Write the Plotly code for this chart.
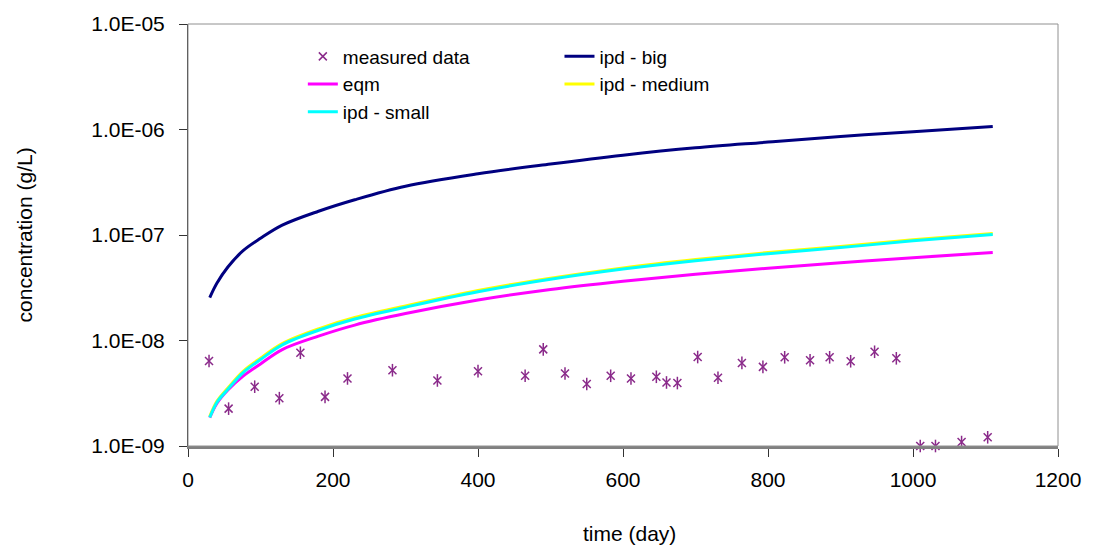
import plotly.graph_objects as go

# Measured concentrations (g/L) against time (day)
days_measured = [29, 56, 92, 126, 155, 189, 220, 282, 344, 400, 465, 490, 520, 550,
                 583, 611, 646, 660, 675, 703, 731, 764, 793, 823, 858, 885, 914,
                 947, 977, 1010, 1031, 1067, 1103]
conc_measured = [6.4e-9, 2.26e-9, 3.65e-9, 2.84e-9, 7.65e-9, 2.92e-9, 4.37e-9, 5.23e-9,
                 4.18e-9, 5.12e-9, 4.63e-9, 8.24e-9, 4.86e-9, 3.87e-9, 4.63e-9, 4.37e-9,
                 4.53e-9, 4.0e-9, 3.95e-9, 6.97e-9, 4.43e-9, 6.13e-9, 5.62e-9, 6.93e-9,
                 6.5e-9, 6.93e-9, 6.36e-9, 7.82e-9, 6.78e-9, 1.0e-9, 1.0e-9, 1.09e-9, 1.21e-9]

# Model curves (g/L)
days_model = [30, 40, 55, 76, 100, 130, 180, 230, 300, 400, 500, 600, 700, 800, 900, 1000, 1110]
conc_eqm = [1.86e-9, 2.55e-9, 3.4e-9, 4.6e-9, 6.0e-9, 8.2e-9, 1.1e-8, 1.4e-8, 1.8e-8,
            2.42e-8, 3.05e-8, 3.65e-8, 4.25e-8, 4.85e-8, 5.45e-8, 6.1e-8, 6.82e-8]
conc_big = [2.55e-8, 3.5e-8, 4.97e-8, 7.1e-8, 9.3e-8, 1.24e-7, 1.68e-7, 2.16e-7, 2.9e-7,
            3.8e-7, 4.7e-7, 5.7e-7, 6.7e-7, 7.6e-7, 8.6e-7, 9.5e-7, 1.07e-6]
conc_medium = [1.9e-9, 2.66e-9, 3.55e-9, 5.1e-9, 6.8e-9, 9.35e-9, 1.29e-8, 1.65e-8, 2.13e-8,
               2.98e-8, 3.9e-8, 4.88e-8, 5.85e-8, 6.82e-8, 7.8e-8, 9.0e-8, 1.035e-7]
conc_small = [1.86e-9, 2.6e-9, 3.45e-9, 4.97e-9, 6.6e-9, 9.1e-9, 1.25e-8, 1.6e-8, 2.07e-8,
              2.9e-8, 3.8e-8, 4.75e-8, 5.7e-8, 6.65e-8, 7.6e-8, 8.8e-8, 1.01e-7]

y_ticks = [1e-9, 1e-8, 1e-7, 1e-6, 1e-5]
y_tick_text = ["1.0E-09", "1.0E-08", "1.0E-07", "1.0E-06", "1.0E-05"]
x_ticks = [0, 200, 400, 600, 800, 1000, 1200]

FONT = "Arial, Liberation Sans, sans-serif"
PURPLE = "#8a2a8a"
TXT = 21

fig = go.Figure()

fig.add_trace(go.Scatter(
    x=days_measured, y=conc_measured, mode="markers", name="measured data",
    marker=dict(symbol="x-thin-open", size=8, color=PURPLE, line=dict(color=PURPLE, width=1.5)),
    legend="legend", cliponaxis=False))
fig.add_trace(go.Scatter(
    x=days_measured, y=conc_measured, mode="markers", showlegend=False, hoverinfo="skip",
    marker=dict(symbol="line-ns-open", size=9, color=PURPLE, line=dict(color=PURPLE, width=1.5)),
    cliponaxis=False))

fig.add_trace(go.Scatter(x=days_model, y=conc_big, mode="lines", name="ipd - big",
                         line=dict(color="#000080", width=3, shape="spline"), legend="legend2"))
fig.add_trace(go.Scatter(x=days_model, y=conc_eqm, mode="lines", name="eqm",
                         line=dict(color="#ff00ff", width=3, shape="spline"), legend="legend"))
fig.add_trace(go.Scatter(x=days_model, y=conc_medium, mode="lines", name="ipd - medium",
                         line=dict(color="#ffff00", width=3, shape="spline"), legend="legend2"))
fig.add_trace(go.Scatter(x=days_model, y=conc_small, mode="lines", name="ipd - small",
                         line=dict(color="#00ffff", width=3, shape="spline"), legend="legend"))

legend_style = dict(font=dict(family=FONT, size=19, color="black"), bgcolor="rgba(0,0,0,0)",
                    xanchor="left", yanchor="top", tracegroupgap=0, itemwidth=30)

fig.update_layout(
    width=1093, height=546,
    margin=dict(l=188, r=29, t=19, b=100),
    paper_bgcolor="white", plot_bgcolor="white",
    font=dict(family=FONT, size=TXT, color="black"),
    legend=dict(x=0.132, y=0.968, **legend_style),
    legend2=dict(x=0.427, y=0.968, **legend_style),
    xaxis=dict(range=[0, 1200], tickvals=x_ticks, ticks="outside", ticklen=8, tickwidth=1,
               tickcolor="#333333", showgrid=False, zeroline=False, showline=True,
               linecolor="#808080", linewidth=3, ticklabelstandoff=5,
               tickfont=dict(family=FONT, size=TXT, color="black")),
    yaxis=dict(type="log", range=[-9, -5], tickvals=y_ticks, ticktext=y_tick_text,
               ticks="outside", ticklen=8, tickwidth=1, tickcolor="#333333",
               showgrid=False, zeroline=False, showline=True, linecolor="#333333",
               linewidth=1, ticklabelstandoff=10,
               tickfont=dict(family=FONT, size=TXT, color="black")),
    shapes=[dict(type="rect", xref="paper", yref="paper", x0=0, x1=1, y0=0, y1=1,
                 line=dict(color="#909090", width=1), layer="above")],
    annotations=[
        dict(text="time (day)", xref="paper", yref="paper", x=0.507, y=-0.207,
             xanchor="center", yanchor="middle", showarrow=False,
             font=dict(family=FONT, size=TXT, color="black")),
        dict(text="concentration (g/L)", xref="paper", yref="paper", x=-0.188, y=0.5,
             xanchor="center", yanchor="middle", textangle=-90, showarrow=False,
             font=dict(family=FONT, size=TXT, color="black")),
    ],
)

fig.write_html("out.html")
